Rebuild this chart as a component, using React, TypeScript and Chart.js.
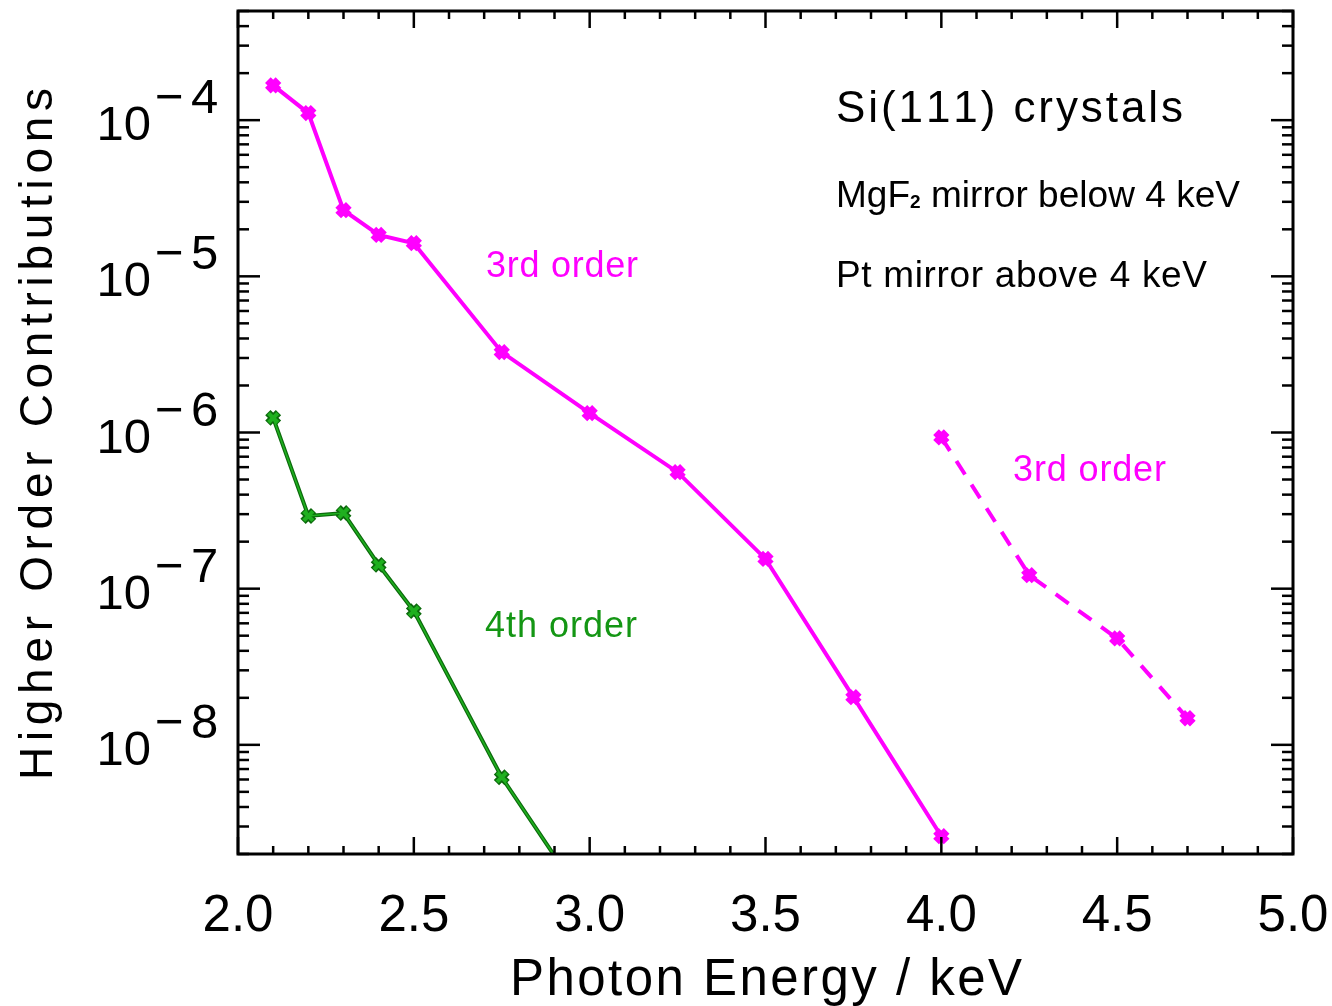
import { useEffect, useRef } from "react";
import { Chart, registerables } from "chart.js";

Chart.register(...registerables);

// 3rd-order contribution, MgF2 mirror (below 4 keV)
const energy3rdMgF2 = [2.1, 2.2, 2.3, 2.4, 2.5, 2.75, 3.0, 3.25, 3.5, 3.75, 4.0];
const contrib3rdMgF2 = [1.67e-4, 1.11e-4, 2.65e-5, 1.84e-5, 1.63e-5, 3.27e-6, 1.33e-6, 5.57e-7, 1.55e-7, 2.02e-8, 2.6e-9];

// 3rd-order contribution, Pt mirror (above 4 keV)
const energy3rdPt = [4.0, 4.25, 4.5, 4.7];
const contrib3rdPt = [9.3e-7, 1.22e-7, 4.8e-8, 1.48e-8];

// 4th-order contribution
const energy4th = [2.1, 2.2, 2.3, 2.4, 2.5, 2.75, 3.0];
const contrib4th = [1.24e-6, 2.92e-7, 3.05e-7, 1.42e-7, 7.18e-8, 6.2e-9, 9.0e-10];

// Axis ticks
const xTickValues = [2.0, 2.5, 3.0, 3.5, 4.0, 4.5, 5.0];
const xTickLabels = ["2.0", "2.5", "3.0", "3.5", "4.0", "4.5", "5.0"];
const yDecadeExponents = [-4, -5, -6, -7, -8];

const X_MIN = 2.0;
const X_MAX = 5.0;
const Y_MIN = 2e-9;
const Y_MAX = 5e-4;

const FONT = "'Liberation Sans', Arial, sans-serif";
const MAGENTA = "#ff00ff";
const GREEN_DARK = "#0c6a0c";
const GREEN_LIGHT = "#1fb01f";
const GREEN_TEXT = "#149614";

type Run = { text: string; size: number; weight?: string; dy?: number };

// Draws a sequence of text runs, spreading letters so the line spans `target` px.
function drawRuns(
  ctx: CanvasRenderingContext2D,
  runs: Run[],
  x: number,
  y: number,
  target: number,
  align: "left" | "center",
  color: string
) {
  const fontOf = (r: Run) => `${r.weight || "normal"} ${r.size}px ${FONT}`;
  let natural = 0;
  let chars = 0;
  for (const r of runs) {
    ctx.font = fontOf(r);
    for (const ch of Array.from(r.text)) {
      natural += ctx.measureText(ch).width;
      chars++;
    }
  }
  const ls = target > 0 && chars > 1 ? (target - natural) / (chars - 1) : 0;
  const total = natural + ls * (chars - 1);
  let cx = align === "center" ? x - total / 2 : x;
  ctx.fillStyle = color;
  ctx.textAlign = "left";
  ctx.textBaseline = "alphabetic";
  for (const r of runs) {
    ctx.font = fontOf(r);
    for (const ch of Array.from(r.text)) {
      ctx.fillText(ch, cx, y + (r.dy || 0));
      cx += ctx.measureText(ch).width + ls;
    }
  }
}

const frameAndLabels = {
  id: "frameAndLabels",
  afterDraw(chart: any) {
    const { ctx, chartArea: a, scales } = chart;
    const xs = scales.x;
    const ys = scales.y;
    ctx.save();

    const seg = (x1: number, y1: number, x2: number, y2: number) => {
      ctx.beginPath();
      ctx.moveTo(x1, y1);
      ctx.lineTo(x2, y2);
      ctx.stroke();
    };

    // inward tick marks
    ctx.strokeStyle = "#000";
    ctx.lineWidth = 2.5;
    ctx.lineCap = "butt";
    const nMinor = Math.round((X_MAX - X_MIN) / 0.1);
    for (let i = 0; i <= nMinor; i++) {
      const px = xs.getPixelForValue(X_MIN + i * 0.1);
      const len = i % 5 === 0 ? 17 : 8;
      seg(px, a.bottom, px, a.bottom - len);
      seg(px, a.top, px, a.top + len);
    }
    for (let e = -9; e <= -4; e++) {
      for (let m = 1; m <= 9; m++) {
        const v = m * Math.pow(10, e);
        if (v < Y_MIN * 0.999 || v > Y_MAX * 1.001) continue;
        const py = ys.getPixelForValue(v);
        const len = m === 1 ? 22 : 11;
        seg(a.left, py, a.left + len, py);
        seg(a.right, py, a.right - len, py);
      }
    }

    // frame
    ctx.lineWidth = 3;
    ctx.strokeRect(a.left, a.top, a.right - a.left, a.bottom - a.top);

    // x tick labels
    ctx.fillStyle = "#000";
    ctx.font = `51px ${FONT}`;
    ctx.textAlign = "center";
    ctx.textBaseline = "alphabetic";
    xTickValues.forEach((v, i) => {
      ctx.fillText(xTickLabels[i], xs.getPixelForValue(v), a.bottom + 77);
    });

    // y tick labels: 10 with raised exponent
    yDecadeExponents.forEach((e) => {
      const py = ys.getPixelForValue(Math.pow(10, e));
      ctx.font = `49px ${FONT}`;
      ctx.textAlign = "right";
      ctx.fillText("10", 151, py + 20);
      ctx.textAlign = "left";
      ctx.fillText("\u2212", 155, py - 7);
      ctx.fillText(String(Math.abs(e)), 191, py - 7);
    });

    // axis titles
    drawRuns(ctx, [{ text: "Photon Energy / keV", size: 51 }], 766, 995, 512, "center", "#000");
    ctx.save();
    ctx.translate(52, 434);
    ctx.rotate(-Math.PI / 2);
    drawRuns(ctx, [{ text: "Higher Order Contributions", size: 46 }], 0, 0, 692, "center", "#000");
    ctx.restore();

    // annotations
    drawRuns(ctx, [{ text: "Si(111) crystals", size: 44 }], 836, 122, 347, "left", "#000");
    drawRuns(
      ctx,
      [
        { text: "MgF", size: 37 },
        { text: "2", size: 19, weight: "bold", dy: 1 },
        { text: " mirror below 4 keV", size: 37 },
      ],
      836,
      207,
      404,
      "left",
      "#000"
    );
    drawRuns(ctx, [{ text: "Pt mirror above 4 keV", size: 37 }], 836, 287, 371, "left", "#000");
    drawRuns(ctx, [{ text: "3rd order", size: 36 }], 486, 277, 152, "left", MAGENTA);
    drawRuns(ctx, [{ text: "3rd order", size: 36 }], 1013, 481, 153, "left", MAGENTA);
    drawRuns(ctx, [{ text: "4th order", size: 36 }], 485, 637, 152, "left", GREEN_TEXT);

    ctx.restore();
  },
};

const toPoints = (xs: number[], ys: number[]) => xs.map((x, i) => ({ x, y: ys[i] }));

export default function App() {
  const canvasRef = useRef<HTMLCanvasElement | null>(null);

  useEffect(() => {
    if (!canvasRef.current) return;
    const chart = new Chart(canvasRef.current, {
      type: "line",
      data: {
        datasets: [
          {
            label: "4th order",
            data: toPoints(energy4th, contrib4th),
            borderColor: GREEN_LIGHT,
            borderWidth: 1.6,
            pointStyle: "crossRot",
            pointRadius: 6.5,
            pointBorderWidth: 4,
            pointBorderColor: GREEN_LIGHT,
            pointBackgroundColor: GREEN_LIGHT,
          },
          {
            label: "4th order outline",
            data: toPoints(energy4th, contrib4th),
            borderColor: GREEN_DARK,
            borderWidth: 4,
            pointStyle: "crossRot",
            pointRadius: 7.5,
            pointBorderWidth: 7.5,
            pointBorderColor: GREEN_DARK,
            pointBackgroundColor: GREEN_DARK,
          },
          {
            label: "3rd order (MgF2 mirror)",
            data: toPoints(energy3rdMgF2, contrib3rdMgF2),
            borderColor: MAGENTA,
            borderWidth: 4,
            pointStyle: "crossRot",
            pointRadius: 7.5,
            pointBorderWidth: 8,
            pointBorderColor: MAGENTA,
            pointBackgroundColor: MAGENTA,
          },
          {
            label: "3rd order (Pt mirror)",
            data: toPoints(energy3rdPt, contrib3rdPt),
            borderColor: MAGENTA,
            borderWidth: 4,
            borderDash: [16, 12],
            pointStyle: "crossRot",
            pointRadius: 7.5,
            pointBorderWidth: 8,
            pointBorderColor: MAGENTA,
            pointBackgroundColor: MAGENTA,
          },
        ],
      },
      options: {
        animation: false,
        responsive: true,
        maintainAspectRatio: false,
        layout: { autoPadding: false, padding: { left: 238, right: 39, top: 11, bottom: 152 } },
        plugins: {
          legend: { display: false },
          tooltip: { enabled: false },
        },
        elements: { line: { tension: 0 } },
        scales: {
          x: { type: "linear", min: X_MIN, max: X_MAX, display: false },
          y: { type: "logarithmic", min: Y_MIN, max: Y_MAX, display: false },
        },
      },
      plugins: [frameAndLabels],
    });
    return () => chart.destroy();
  }, []);

  return (
    <div style={{ position: "fixed", left: 0, top: 0, width: 1332, height: 1006, background: "#fff" }}>
      <canvas ref={canvasRef} />
    </div>
  );
}
